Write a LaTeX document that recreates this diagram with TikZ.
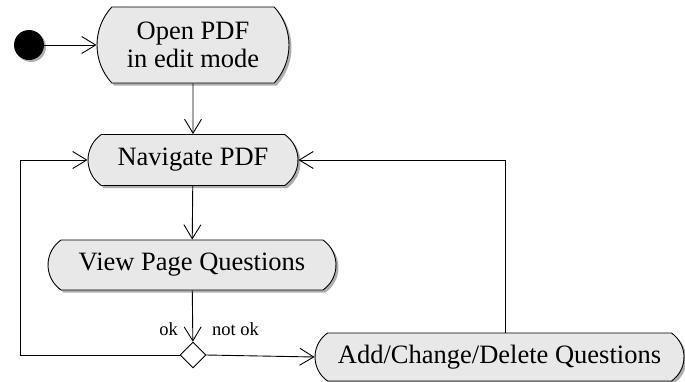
\documentclass[tikz,border=0pt]{standalone}
\usepackage{fontspec}
\setmainfont{Liberation Serif}
\usetikzlibrary{shapes.misc,shapes.geometric,arrows.meta,shadows}
\begin{document}
\begin{tikzpicture}[x=1pt,y=-1pt,
  action/.style={rounded rectangle, draw=black, line width=0.9pt, fill=black!9,
    drop shadow={shadow xshift=2.5pt, shadow yshift=-2.5pt, fill=black!45, opacity=0.7},
    font=\fontsize{26.5}{28}\selectfont, align=center, inner sep=0pt,
    rounded rectangle arc length=110},
  flow/.style={draw=black, line width=0.9pt, -{Straight Barb[length=14pt,width=17pt,line width=0.9pt]}},
  guard/.style={font=\fontsize{18.5}{20}\selectfont, inner sep=0pt}]
\useasboundingbox (0,0) rectangle (685,381);

\node[circle, fill=black, minimum size=30pt, inner sep=0pt,
  drop shadow={shadow xshift=2pt, shadow yshift=-2pt, fill=black!45, opacity=0.7}] (start) at (29,45) {};

\node[action, minimum width=192pt, minimum height=76pt, rounded rectangle arc length=85] (open) at (193,45) {Open PDF\\in edit mode};
\node[action, minimum width=210pt, minimum height=51pt] (nav) at (193,160) {Navigate PDF};
\node[action, minimum width=288pt, minimum height=50pt] (view) at (192,265) {View Page Questions};
\node[diamond, draw=black, line width=0.9pt, fill=white, minimum width=26pt, minimum height=26pt, inner sep=0pt] (dec) at (193,355) {};
\node[action, minimum width=369pt, minimum height=48pt] (add) at (499.5,357) {Add/Change/Delete Questions};

\coordinate (loopL) at (20,355);
\coordinate (loopR) at (505,333);

\draw[flow] (start) -- (open);
\draw[flow] (open) -- (nav);
\draw[flow] (nav) -- (view);
\draw[flow] (view) -- (dec);
\draw[flow] (dec.west) -- (loopL) |- (nav.west);
\draw[flow] (dec.east) -- (add.west);
\draw[flow] (loopR) |- (nav.east);

\node[guard, anchor=base east] (ok) at (178,335) {ok};
\node[guard, anchor=base west] (notok) at (212,335) {not ok};
\end{tikzpicture}
\end{document}
